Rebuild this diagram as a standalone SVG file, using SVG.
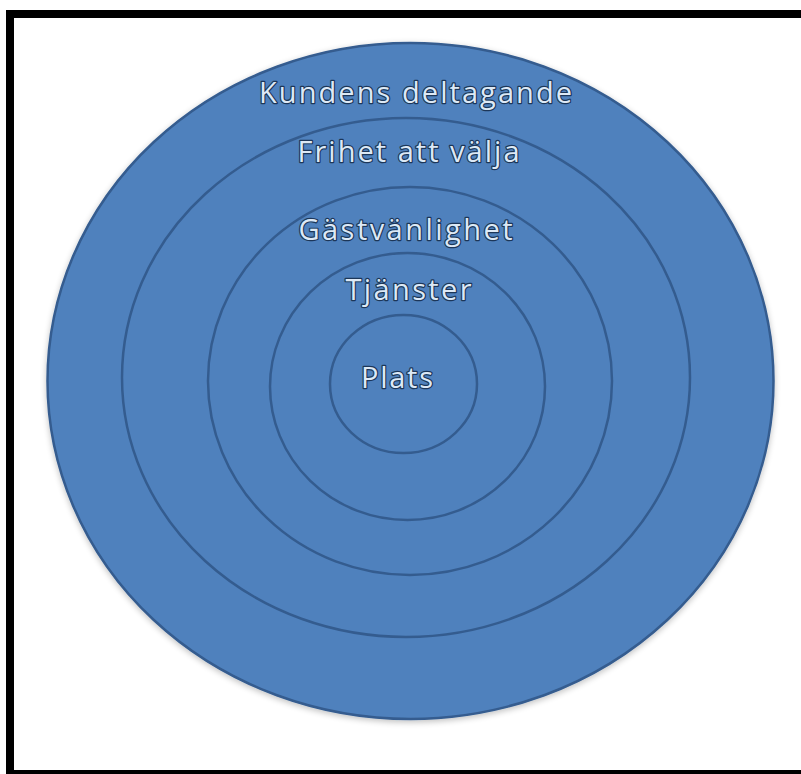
<svg xmlns="http://www.w3.org/2000/svg" width="801" height="774" viewBox="0 0 801 774">
  <style>
    .ring { fill: #4f81bd; stroke: #345c8f; stroke-width: 2.5; }
    .lbl { font-family: "Open Sans", "Liberation Sans", sans-serif; font-size: 29px; fill: #dde9f6; stroke: #1c3658; stroke-width: 2.4; paint-order: stroke fill; text-anchor: middle; stroke-linejoin: round; }
  </style>
  <defs>
    <filter id="sh" x="-10%" y="-10%" width="120%" height="120%">
      <feGaussianBlur in="SourceAlpha" stdDeviation="3"/>
      <feOffset dx="0" dy="2" result="b"/>
      <feComponentTransfer><feFuncA type="linear" slope="0.25"/></feComponentTransfer>
      <feMerge><feMergeNode/><feMergeNode in="SourceGraphic"/></feMerge>
    </filter>
  </defs>
  <rect x="0" y="0" width="801" height="774" fill="#ffffff"/>
  <rect x="10" y="14" width="800" height="760" fill="none" stroke="#000000" stroke-width="8"/>
  <g id="kundens-deltagande">
    <ellipse class="ring" cx="410.5" cy="381" rx="363" ry="338" filter="url(#sh)" stroke="#3d6595" stroke-width="1.5"/>
    <text class="lbl" x="415.5" y="103" textLength="313" lengthAdjust="spacing">Kundens deltagande</text>
  </g>
  <g id="frihet-att-valja">
    <ellipse class="ring" cx="406" cy="377.5" rx="284" ry="259.5"/>
    <text class="lbl" x="408.5" y="162" textLength="222" lengthAdjust="spacing">Frihet att välja</text>
  </g>
  <g id="gastvanlighet">
    <ellipse class="ring" cx="410" cy="381" rx="202" ry="194"/>
    <text class="lbl" x="405.5" y="240" textLength="214" lengthAdjust="spacing">Gästvänlighet</text>
  </g>
  <g id="tjanster">
    <ellipse class="ring" cx="407.5" cy="386.5" rx="137.5" ry="133.5"/>
    <text class="lbl" x="408.5" y="300" textLength="126" lengthAdjust="spacing">Tjänster</text>
  </g>
  <g id="plats">
    <ellipse class="ring" cx="403.5" cy="384" rx="73.5" ry="69"/>
    <text class="lbl" x="397" y="388" textLength="72" lengthAdjust="spacing">Plats</text>
  </g>
  <g id="connectors"/>
</svg>
